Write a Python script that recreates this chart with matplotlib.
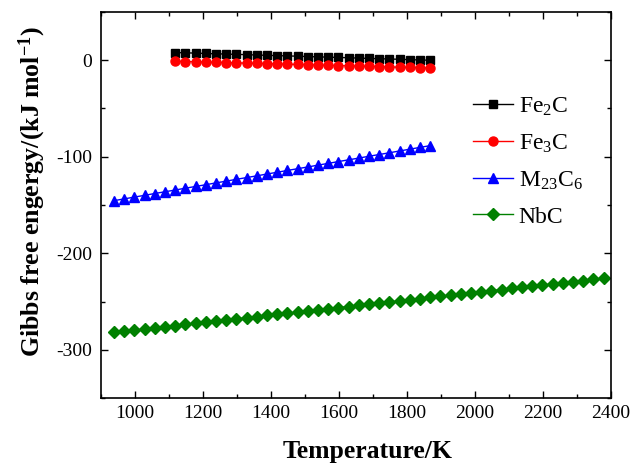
import matplotlib
matplotlib.use("Agg")
import matplotlib.pyplot as plt
from matplotlib.ticker import MultipleLocator

plt.rcParams['font.family'] = ['Liberation Serif', 'DejaVu Serif']
plt.rcParams['mathtext.fontset'] = 'custom'
plt.rcParams['mathtext.rm'] = 'Liberation Serif'
plt.rcParams['mathtext.it'] = 'Liberation Serif:italic'
plt.rcParams['mathtext.bf'] = 'Liberation Serif:bold'
plt.rcParams['axes.unicode_minus'] = False

# Data
T_fe = list(range(1118, 1869, 30))
fe2c = [8.0, 7.7, 7.4, 7.0, 6.7, 6.4, 6.1, 5.8, 5.4, 5.1, 4.8, 4.5, 4.2, 3.8, 3.5,
        3.2, 2.9, 2.6, 2.2, 1.9, 1.6, 1.3, 1.0, 0.6, 0.3, 0.0]
fe3c = [-1.0, -1.3, -1.6, -1.8, -2.1, -2.4, -2.7, -3.0, -3.2, -3.5, -3.8, -4.1, -4.4,
        -4.6, -4.9, -5.2, -5.5, -5.8, -6.0, -6.3, -6.6, -6.9, -7.2, -7.4, -7.7, -8.0]
T_m = list(range(938, 1869, 30))
m23c6 = [-145.5, -143.7, -141.8, -140.0, -138.1, -136.3, -134.5, -132.6, -130.8,
         -129.0, -127.1, -125.3, -123.4, -121.6, -119.8, -117.9, -116.1, -114.2,
         -112.4, -110.6, -108.7, -106.9, -105.0, -103.2, -101.4, -99.5, -97.7,
         -95.9, -94.0, -92.2, -90.3, -88.5]
T_nb = list(range(938, 2379, 30))
nbc = [-282.0, -280.8, -279.7, -278.5, -277.3, -276.2, -275.0, -273.8, -272.7,
       -271.5, -270.3, -269.2, -268.0, -266.8, -265.7, -264.5, -263.3, -262.2,
       -261.0, -259.8, -258.7, -257.5, -256.3, -255.2, -254.0, -252.8, -251.7,
       -250.5, -249.3, -248.2, -247.0, -245.8, -244.7, -243.5, -242.3, -241.2,
       -240.0, -238.8, -237.7, -236.5, -235.3, -234.2, -233.0, -231.8, -230.7,
       -229.5, -228.3, -227.2, -226.0]

fig = plt.figure(figsize=(6.42, 4.69), dpi=100)
ax = fig.add_axes([101/642, 71/469, 510/642, 386/469])

ax.plot(T_fe, fe2c, color='black', marker='s', ms=6.2, lw=1, label=r'Fe$\mathregular{_2}$C')
ax.plot(T_fe, fe3c, color='red', marker='o', ms=6.5, lw=1, label=r'Fe$\mathregular{_3}$C')
ax.plot(T_m, m23c6, color='blue', marker='^', ms=7.5, lw=1, label=r'M$\mathregular{_{23}}$C$\mathregular{_6}$')
ax.plot(T_nb, nbc, color='green', marker='D', ms=6.5, lw=1, label='NbC')

ax.set_xlim(900, 2400)
ax.set_ylim(-350, 50)
ax.xaxis.set_major_locator(MultipleLocator(200))
ax.xaxis.set_minor_locator(MultipleLocator(100))
ax.yaxis.set_major_locator(MultipleLocator(100))
ax.yaxis.set_minor_locator(MultipleLocator(50))
ax.tick_params(which='both', direction='in', top=True, right=True, labelsize=14, width=1)
ax.tick_params(which='major', length=5)
ax.tick_params(which='minor', length=3)
ax.tick_params(axis='x', pad=5)
ax.tick_params(axis='y', pad=6.5)
for s in ax.spines.values():
    s.set_linewidth(1.2)

ax.set_xlabel('Temperature/K', fontsize=18.5, fontweight='bold')
ax.xaxis.set_label_coords(0.522, -0.108)
ax.set_ylabel(r'Gibbs free engergy/(kJ mol$\mathbf{^{-1}}$)', fontsize=18.6,
              fontweight='bold')
ax.yaxis.set_label_coords(-0.104, 0.535)

leg = ax.legend(loc='upper left', bbox_to_anchor=(0.729, 0.784), frameon=False,
                fontsize=17, handlelength=1.7, handletextpad=0.25, labelspacing=0.62,
                borderpad=0, borderaxespad=0)

fig.savefig('out.png', dpi=100)
